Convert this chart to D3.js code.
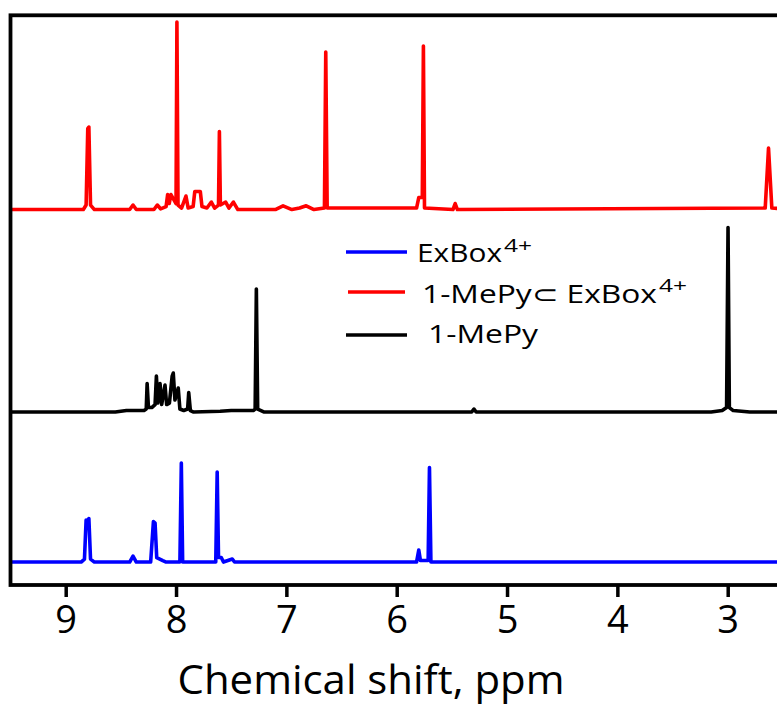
<!DOCTYPE html>
<html>
<head>
<meta charset="utf-8">
<script src="https://cdn.jsdelivr.net/npm/d3@7"></script>
<style>
  html, body { margin: 0; padding: 0; background: #fff; }
  svg { display: block; }
  text { font-family: "Open Sans", "Noto Sans", sans-serif; }
</style>
</head>
<body>
<svg id="chart"></svg>
<script>
"use strict";

// spectra as [ppm, intensity] vertices
const exboxSpectrum = [
    [9.6, 0], [8.86, 0], [8.83, 0.02], [8.815, 0.28], [8.80, 0.275], [8.79, 0.29], [8.775, 0.02], [8.74, 0],
    [8.42, 0], [8.39, 0.04], [8.36, 0],
    [8.23, 0], [8.205, 0.27], [8.19, 0.26], [8.175, 0.03], [8.12, 0.01], [8.09, 0],
    [7.965, 0], [7.952, 0.66], [7.94, 0],
    [7.64, 0], [7.627, 0.60], [7.615, 0.03], [7.59, 0.03], [7.57, 0], [7.49, 0.02], [7.47, 0],
    [5.82, 0], [5.80, 0.08], [5.785, 0.01], [5.715, 0.01], [5.703, 0.63], [5.69, 0],
    [2.4, 0]
];

const mepySpectrum = [
    [9.6, 0], [8.55, 0], [8.45, 0.01], [8.35, 0.01], [8.29, 0.01],
    [8.27, 0.02], [8.262, 0.19], [8.25, 0.03], [8.22, 0.03],
    [8.19, 0.05], [8.178, 0.24], [8.165, 0.06], [8.145, 0.19], [8.13, 0.05], [8.10, 0.18], [8.085, 0.05],
    [8.06, 0.06], [8.035, 0.24], [8.025, 0.26], [8.01, 0.08], [7.98, 0.16], [7.965, 0.02], [7.93, 0.01],
    [7.895, 0.02], [7.885, 0.13], [7.87, 0.01], [7.84, 0],
    [7.6, 0.005], [7.5, 0.01], [7.3, 0.01], [7.283, 0.02], [7.272, 0.82], [7.26, 0.02], [7.2, 0],
    [5.32, 0], [5.30, 0.02], [5.28, 0],
    [3.15, 0], [3.05, 0.01], [3.01, 0.03], [2.997, 1.23], [2.985, 0.03], [2.95, 0.01], [2.8, 0],
    [2.4, 0]
];

const complexSpectrum = [
    [9.6, 0], [8.84, 0], [8.815, 0.03], [8.80, 0.54], [8.79, 0.55], [8.775, 0.03], [8.74, 0],
    [8.42, 0], [8.39, 0.03], [8.36, 0],
    [8.20, 0], [8.17, 0.03], [8.14, 0.005],
    [8.09, 0.02], [8.076, 0.10], [8.062, 0.04], [8.046, 0.10], [8.00, 0.04], [7.992, 1.25], [7.982, 0.03],
    [7.95, 0.01], [7.91, 0.09], [7.89, 0.01], [7.845, 0.02], [7.83, 0.12], [7.78, 0.12], [7.765, 0.02],
    [7.72, 0.01], [7.68, 0.05], [7.65, 0.01], [7.615, 0.03], [7.607, 0.52], [7.598, 0.03],
    [7.55, 0.05], [7.52, 0.01], [7.48, 0.05], [7.44, 0],
    [7.10, 0], [7.03, 0.025], [6.95, 0], [6.88, 0.01], [6.82, 0.025], [6.75, 0],
    [6.655, 0.01], [6.643, 1.05], [6.63, 0.01],
    [5.82, 0.01], [5.80, 0.08], [5.768, 0.08], [5.758, 1.09], [5.748, 0.01],
    [5.49, 0], [5.47, 0.04], [5.45, 0],
    [2.66, 0.01], [2.63, 0.41], [2.60, 0.01], [2.4, 0]
];

const spectra = [
    {name: "ExBox", color: "#0000ff", offset: 0, points: exboxSpectrum},
    {name: "1-MePy", color: "#000000", offset: 1.0, points: mepySpectrum},
    {name: "1-MePy⊂ ExBox", color: "#ff0000", offset: 2.35, points: complexSpectrum}
];

const legendItems = [
    {label: "ExBox", sup: "4+", color: "#0000ff"},
    {label: "1-MePy⊂ ExBox", sup: "4+", color: "#ff0000"},
    {label: "1-MePy", sup: "", color: "#000000"}
];

const xTicks = [9, 8, 7, 6, 5, 4, 3];
const xTitle = "Chemical shift, ppm";

const width = 777;
const height = 708;
const frame = {left: 10.5, top: 15.3, right: 820, bottom: 585};

const svg = d3.select("#chart")
    .attr("width", width)
    .attr("height", height);

const x = d3.scaleLinear().domain([9, 3]).range([65.7, 727.7]);
const y = d3.scaleLinear().domain([-0.153, 3.645]).range([frame.bottom, frame.top]);

svg.append("defs").append("clipPath")
    .attr("id", "plotClip")
    .append("rect")
    .attr("x", frame.left)
    .attr("y", frame.top)
    .attr("width", frame.right - frame.left)
    .attr("height", frame.bottom - frame.top);

const line = d3.line()
    .x(d => x(d[0]))
    .y(d => y(d[1]));

// spectra
svg.append("g")
    .attr("clip-path", "url(#plotClip)")
    .selectAll("path")
    .data(spectra)
    .join("path")
    .attr("d", s => line(s.points.map(p => [p[0], p[1] + s.offset])))
    .attr("fill", "none")
    .attr("stroke", s => s.color)
    .attr("stroke-width", 3.6)
    .attr("stroke-linejoin", "round")
    .attr("stroke-linecap", "round");

// frame
svg.append("rect")
    .attr("x", frame.left)
    .attr("y", frame.top)
    .attr("width", frame.right - frame.left)
    .attr("height", frame.bottom - frame.top)
    .attr("fill", "none")
    .attr("stroke", "#000")
    .attr("stroke-width", 3.8);

// x axis
const xAxis = svg.append("g")
    .attr("transform", `translate(0,${frame.bottom})`)
    .call(d3.axisBottom(x).tickValues(xTicks).tickSize(12).tickPadding(9).tickFormat(d3.format("d")));
xAxis.select(".domain").remove();
xAxis.selectAll(".tick line").attr("stroke-width", 3.5);
xAxis.selectAll(".tick text")
    .attr("font-size", 38)
    .attr("fill", "#000")
    .style("font-family", "'Open Sans', sans-serif");

svg.append("text")
    .attr("x", 371)
    .attr("y", 694)
    .attr("text-anchor", "middle")
    .attr("font-size", 40)
    .attr("textLength", 387)
    .attr("lengthAdjust", "spacingAndGlyphs")
    .text(xTitle);

// legend
const legendPos = [
    {x1: 346, x2: 407, ly: 252, tx: 417, ty: 262, w: 85, supDy: -10},
    {x1: 348, x2: 405, ly: 292, tx: 422, ty: 303, w: 235, supDy: -11},
    {x1: 346, x2: 407, ly: 335, tx: 428, ty: 343, w: 110, supDy: 0}
];

const legend = svg.append("g")
    .selectAll("g")
    .data(legendItems)
    .join("g");

legend.append("line")
    .attr("x1", (d, i) => legendPos[i].x1)
    .attr("x2", (d, i) => legendPos[i].x2)
    .attr("y1", (d, i) => legendPos[i].ly)
    .attr("y2", (d, i) => legendPos[i].ly)
    .attr("stroke", d => d.color)
    .attr("stroke-width", 3.5);

legend.append("text")
    .attr("x", (d, i) => legendPos[i].tx)
    .attr("y", (d, i) => legendPos[i].ty)
    .attr("font-size", 25)
    .attr("fill", "#000")
    .attr("textLength", (d, i) => legendPos[i].w)
    .attr("lengthAdjust", "spacingAndGlyphs")
    .text(d => d.label);

legend.filter(d => d.sup)
    .append("text")
    .attr("x", (d, i) => legendPos[i].tx + legendPos[i].w + 2)
    .attr("y", (d, i) => legendPos[i].ty + legendPos[i].supDy)
    .attr("font-size", 18)
    .attr("fill", "#000")
    .attr("textLength", 28)
    .attr("lengthAdjust", "spacingAndGlyphs")
    .text(d => d.sup);
</script>
</body>
</html>
